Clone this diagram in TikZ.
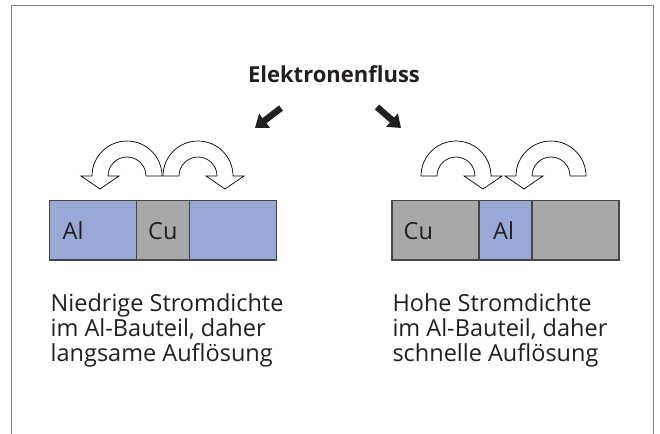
\documentclass[tikz,border=0pt]{standalone}
\usepackage{fontspec}
\setmainfont{Open Sans}
\usetikzlibrary{arrows.meta}
\definecolor{alblue}{RGB}{151,169,212}
\definecolor{cugray}{RGB}{168,168,170}
\definecolor{edge}{RGB}{70,70,72}
\definecolor{framegray}{RGB}{128,128,128}
\definecolor{ink}{RGB}{35,31,32}
\newcommand{\UArrHeadLeft}[1]{%
  \draw[uarrow] ({#1+35},176) arc[start angle=0,end angle=-180,radius=35]
    -- ({#1-46},176) -- ({#1-27},189) -- ({#1-8},176) -- ({#1-19},176)
    arc[start angle=-180,end angle=0,radius=19] -- cycle;}
\newcommand{\UArrHeadRight}[1]{%
  \draw[uarrow] ({#1-35},176) arc[start angle=-180,end angle=0,radius=35]
    -- ({#1+46},176) -- ({#1+27},189) -- ({#1+8},176) -- ({#1+19},176)
    arc[start angle=0,end angle=-180,radius=19] -- cycle;}
\begin{document}
\begin{tikzpicture}[x=1pt,y=-1pt,
  seg/.style={draw=edge,line width=1.2pt},
  uarrow/.style={draw=black,fill=white,line width=0.7pt,line join=miter},
  lbl/.style={anchor=base west,inner sep=0pt,font=\fontsize{23.5}{28}\selectfont,text=ink},
  txt/.style={anchor=base west,inner sep=0pt,font=\fontsize{23.5}{28}\selectfont,text=ink},
  flow/.style={line width=6.5pt,draw=ink,-{Triangle[width=17pt,length=12pt]}}]
\useasboundingbox (0,0) rectangle (660,433);
\draw[framegray,line width=1.8pt] (11.5,440) -- (11.5,5.5) -- (653.5,5.5) -- (653.5,440);
% title
\node[anchor=base,inner sep=0pt,font=\fontsize{22}{26}\selectfont\bfseries,text=ink] (title) at (334,82.3) {Elektronenfluss};
% electron flow arrows
\coordinate (la0) at (281,108);
\coordinate (la1) at (255,128);
\coordinate (ra0) at (377,107);
\coordinate (ra1) at (401,128);
\draw[flow] (la0) -- (la1);
\draw[flow] (ra0) -- (ra1);
% left bar
\draw[seg,fill=alblue] (49.5,200.5) rectangle (136.7,260);
\draw[seg,fill=cugray] (136.7,200.5) rectangle (189.5,260);
\draw[seg,fill=alblue] (189.5,200.5) rectangle (276.5,260);
\node[lbl] (lal) at (62.5,239) {Al};
\node[lbl] (lcu) at (148,239) {Cu};
% right bar
\draw[seg,fill=cugray] (392,200.5) rectangle (479,260);
\draw[seg,fill=alblue] (479,200.5) rectangle (532,260);
\draw[seg,fill=cugray] (532,200.5) rectangle (619,260);
\node[lbl] (rcu) at (403.5,239) {Cu};
\node[lbl] (ral) at (493,239) {Al};
% U arrows
\UArrHeadLeft{127}
\UArrHeadRight{198}
\UArrHeadRight{456}
\UArrHeadLeft{551}
% texts
\node[txt] (l1) at (50.5,311.7) {Niedrige Stromdichte};
\node[txt] (l2) at (50.5,336.7) {im Al-Bauteil, daher};
\node[txt] (l3) at (50.5,361.7) {langsame Auflösung};
\node[txt] (r1) at (392.3,311.7) {Hohe Stromdichte};
\node[txt] (r2) at (392.3,336.7) {im Al-Bauteil, daher};
\node[txt] (r3) at (392.3,361.7) {schnelle Auflösung};
\end{tikzpicture}
\end{document}
